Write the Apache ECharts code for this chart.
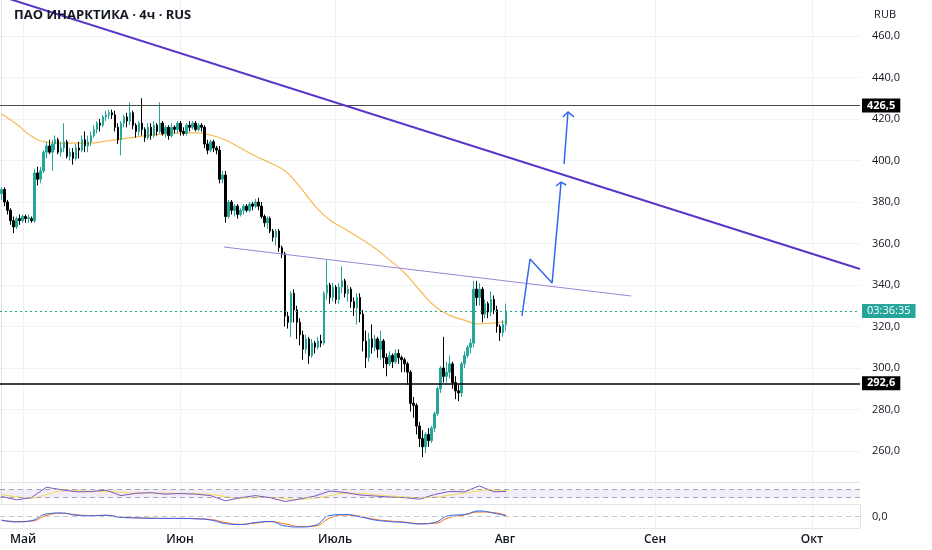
<!DOCTYPE html>
<html><head><meta charset="utf-8">
<script src="https://cdn.jsdelivr.net/npm/echarts@6/dist/echarts.min.js"></script>
<style>html,body{margin:0;padding:0;background:#fff}#c{width:932px;height:550px}</style>
</head><body><div id="c"></div>
<script>
const titleText = 'ПАО ИНАРКТИКА · 4ч · RUS';
const currency = 'RUB';
const monthNames = ['Май', 'Июн', 'Июль', 'Авг', 'Сен', 'Окт'];
const monthPos = [7.2, 59.8, 111.7, 168.6, 218.9, 271.4];
const priceTicks = [260, 280, 300, 320, 340, 360, 380, 400, 420, 440, 460];
const resistance = 426.5;
const support = 292.6;
const lastPrice = 327.5;
const countdown = '03:36:35';

// [open, close, low, high] per 4h bar, bar index = position in array
const candles = [
[384,386,381,387],[386,380,378,387],[380,376,374,381],[376,371,369,377],[371,368,365,373],
[368,372,367,373],[372,371,369,374],[371,373,370,374],[373,372,370,374],[372,372.5,370,374],
[372,371,370,373],[371,394,370,396],[394,391,388,397],[391,395,389,397],[395,404,394,405],
[404,407,401,409],[407,404,403,410],[404,408,395,410],[408,410,405,412],[410,404,403,411],
[404,406,402,409],[406,409,404,418],[409,402,401,410],[402,404,400,406],[404,401,398,406],
[401,406,400,408],[406,405,401,409],[405,410,404,412],[410,407,404,414],[407,409,404,412],
[409,412,407,414],[412,415,411,417],[415,418,413,419],[418,417,414,420],[417,421,416,422],
[421,422,419,424],[422,423,420,424.5],[423,422,420,424.5],[422,416,414,424],[416,410,408,418],
[410,418,402.5,419],[418,421,416,422],[421,419,416,423],[419,423,417,428],[423,417,415,424],
[417,414,411,418],[414,418,412,419],[418,415,412,430],[415,411,409,416],[411,416,410,418],
[416,412,410,418],[412,417,411,419],[417,414,412,418],[414,418,413,428],[418,413,412,419],
[413,416,411,417],[416,412,410,417],[412,416,411,418],[416,415,413,417],[415,418,413,419],
[418,414,412,419],[414,413,412,416],[413,417,412,418],[417,416,414,419],[416,418,415,419],
[418,415,414,419],[415,417,414,418],[417,416,414,418],[416,408,406,417],[408,405,403,410],
[405,409,404,410],[409,406,404,410],[406,405,403,407],[405,391,389,407],[391,393,389,395],
[393,373,370,395],[373,380,372,381],[380,376,374,381],[376,378,373,379],[378,374,372,379],
[374,376,373,377],[376,378,374,379],[378,376,375,379],[376,379,375,380],[379,378,376,380],
[378,380,377,381.5],[380,378,376,382],[378,373,372,380],[373,370,368,374],[370,372,367,373],
[372,366,365,373],[366,363,361,367],[363,366,359,367],[366,358,356,367],[358,355,353,359],
[355,325,320,356],[325,322,319,327],[322,336,315,337],[336,328,322,338],[328,322,314,330],
[322,316,311,324],[316,309,304,318],[309,314,307,316],[314,306,302,315],[306,312,305,314],
[312,310,307,313],[310,313,309,315],[313,312,310,316],[312,336,311,337],[336,340,333,352],
[340,334,331,341],[334,339,332,341],[339,333,331,340],[333,339,331,341],[339,342,336,349],
[342,336,334,343],[336,338,332,340],[338,332,329,339],[332,329,325,334],[329,334,321,336],
[334,326,322,336],[326,313,308,328],[313,305,300,318],[305,314,303,317],[314,310,307,321],
[310,314,308,316],[314,309,305,315],[309,313,304,318],[313,305,300,314],[305,302,296,307],
[302,306,301,308],[306,303,300,307],[303,307,302,309],[307,305,302,309],[305,304,298,306],
[304,302,298,305],[302,298,292,303],[298,283,279,299],[283,282,276,286],[282,272,268,283],
[272,266,262,274],[266,262,257,270],[262,268,259,269],[268,265,262,271],[265,271,264,272],
[271,278,269,279],[278,290,277,291],[290,300,288,301],[300,296,293,315],[296,298,293,303],
[298,302,295,306],[302,293,290,303],[293,289,285,296],[289,288,284,292],[288,302,286,303],
[302,306,300,308],[306,310,305,311],[310,312,307,314],[312,338,310,342],[338,334,330,342],
[334,338,330,341],[338,326,322,339],[326,331,324,333],[331,327,324,332],[327,333,325,337],
[333,328,326,335],[328,320,317,330],[320,317,313,321],[317,321,315,323],[321,327.5,318,331]
];

// indicator samples at these bar indices
const sampleIdx = [0,5,10,15,20,25,30,35,40,45,50,55,60,65,70,75,80,85,90,95,100,105,110,115,120,125,130,135,140,145,150,155,160,165,169];
const ma = [422.4,417.6,411.8,408.9,408.4,408.4,408.4,409.4,410.3,411.3,412.3,412.8,413.3,413.3,412.3,409.9,406.0,402.2,398.8,394.9,387.2,378.1,371.3,367.0,362.6,357.8,352.0,345.8,337.6,329.9,325.5,323.1,321.2,321.7,322.2];
const rsi = [36,20,30,80,68,58,59,66,40,51,54,47,50,47,40,15,30,40,30,12,24,38,62,55,43,38,33,30,23,45,60,58,86,58,60];
const rsiMa = [45,35,28,45,62,65,60,60,56,52,52,52,50,49,46,35,28,30,32,25,22,28,40,50,50,44,38,34,30,32,42,52,62,66,62];
const macd = [-3.8,-5.4,-4.2,2.5,3.5,1.3,0.7,1.3,-0.9,-1.4,-1.8,-1.9,-1.9,-2.3,-3.5,-7.1,-8.1,-6.0,-5.0,-9.5,-10.5,-8.8,1.0,2.0,-0.3,-3.5,-5.0,-6.0,-7.5,-6.0,1.0,2.0,5.5,3.3,0.5];
const signal = [-3.5,-5.0,-4.6,1.0,3.3,1.8,0.9,1.0,-0.6,-1.3,-1.7,-1.9,-1.9,-2.2,-3.0,-6.0,-7.8,-6.6,-5.2,-7.5,-10.0,-9.5,-1.5,1.5,0.3,-2.8,-4.5,-5.6,-7.0,-6.8,-1.0,1.6,4.5,3.8,1.2];

// drawings in [bar index, price]
const trendMain = [[-0.5, 479.3], [287.5, 347.7]];
const trendNeck = [[74.5, 358.3], [210.8, 334.7]];
const arrowPath1 = [[174.3, 325.1], [177.0, 352.5], [184.4, 341.0], [187.4, 389.6]];
const arrowHead1 = [[185.7, 387.7], [187.4, 389.6], [189.1, 388.2]];
const arrowPath2 = [[188.4, 398.3], [189.7, 423.4]];
const arrowHead2 = [[188.0, 421.0], [189.7, 423.4], [191.7, 421.0]];

const FONT = 'Open Sans';
const fmt = v => Number(v).toFixed(1).replace('.', ',');
const XMIN = -0.5, XMAX = 287.5;
const gridColor = '#f1f2f5';
const sepColor = '#e0e3eb';

function xAxisFor(gi, showLabels) {
  return {
    type: 'value', gridIndex: gi, min: XMIN, max: XMAX,
    axisLine: { show: true, onZero: false, lineStyle: { color: sepColor } },
    axisTick: { show: false, customValues: monthPos },
    splitLine: { show: true, lineStyle: { color: gridColor } },
    axisLabel: {
      show: showLabels, customValues: monthPos, margin: 6, alignMinLabel: 'center', alignMaxLabel: 'center',
      color: '#131722', fontSize: 12, fontWeight: 600, fontFamily: FONT,
      formatter: v => monthNames[monthPos.indexOf(v)] || ''
    }
  };
}

const sample = arr => sampleIdx.map((ix, k) => [ix, arr[k]]);
const candleData = candles.map((c, i) => [i, c[0], c[1], c[2], c[3]]);

const chart = echarts.init(document.getElementById('c'), null, { renderer: 'canvas' });
chart.setOption({
  animation: false,
  backgroundColor: '#ffffff',
  textStyle: { fontFamily: FONT },
  title: [
    { text: titleText, left: 9, top: 4, textStyle: { fontSize: 13, fontWeight: 'bold', color: '#131722', fontFamily: FONT } },
    { text: currency, right: 31, top: 4, textStyle: { fontSize: 11, fontWeight: 'normal', color: '#131722', fontFamily: FONT } }
  ],
  grid: [
    { left: 0, right: 72, top: 0, height: 482 },
    { left: 0, right: 72, top: 483, height: 21 },
    { left: 0, right: 72, top: 505, height: 23 }
  ],
  xAxis: [xAxisFor(0, false), xAxisFor(1, false), xAxisFor(2, true)],
  yAxis: [
    {
      type: 'value', gridIndex: 0, position: 'right', min: 245.06, max: 477.35, scale: true,
      axisLine: { show: true, lineStyle: { color: sepColor } },
      axisTick: { show: false, customValues: priceTicks },
      splitLine: { show: true, lineStyle: { color: gridColor } },
      axisLabel: { customValues: priceTicks, margin: 12, color: '#131722', fontSize: 11, fontFamily: FONT, formatter: fmt }
    },
    {
      type: 'value', gridIndex: 1, position: 'right', min: 0, max: 100,
      axisLine: { show: true, lineStyle: { color: sepColor } },
      axisTick: { show: false }, splitLine: { show: false }, axisLabel: { show: false }
    },
    {
      type: 'value', gridIndex: 2, position: 'right', min: -11.5, max: 11.5,
      axisLine: { show: true, onZero: false, lineStyle: { color: sepColor } },
      axisTick: { show: false, customValues: [0] }, splitLine: { show: false },
      axisLabel: { customValues: [0], margin: 12, color: '#131722', fontSize: 11, fontFamily: FONT, formatter: fmt }
    }
  ],
  series: [
    {
      type: 'line', name: 'levels', xAxisIndex: 0, yAxisIndex: 0, data: [], silent: true,
      markLine: {
        symbol: 'none', silent: true, animation: false,
        data: [
          { yAxis: resistance, lineStyle: { color: '#4a4a4a', width: 1, type: 'solid' },
            label: { formatter: fmt(resistance), position: 'end', distance: 2, backgroundColor: '#000', color: '#fff', fontWeight: 'bold', fontSize: 11, padding: [2, 5, 1, 5], fontFamily: FONT } },
          { yAxis: support, lineStyle: { color: '#000', width: 1.6, type: 'solid' },
            label: { formatter: fmt(support), position: 'end', distance: 2, backgroundColor: '#000', color: '#fff', fontWeight: 'bold', fontSize: 11, padding: [2, 5, 1, 5], fontFamily: FONT } },
          { yAxis: lastPrice, lineStyle: { color: '#22a592', width: 1, type: [2, 3] },
            label: { formatter: countdown, position: 'end', distance: 2, backgroundColor: '#26a69a', color: '#fff', fontSize: 11, padding: [2, 5, 1, 5], fontFamily: FONT } }
        ]
      }
    },
    {
      type: 'line', name: 'MA', xAxisIndex: 0, yAxisIndex: 0, data: sample(ma), smooth: true,
      showSymbol: false, lineStyle: { color: '#f7b955', width: 1.2 }, z: 3
    },
    {
      type: 'candlestick', name: 'price', xAxisIndex: 0, yAxisIndex: 0, data: candleData, barWidth: 2,
      itemStyle: { color: '#26a69a', color0: '#000000', borderColor: '#26a69a', borderColor0: '#000000', borderWidth: 1 },
      z: 4
    },
    {
      type: 'line', name: 'trend', xAxisIndex: 0, yAxisIndex: 0, data: trendMain, showSymbol: false,
      lineStyle: { color: '#5a35c8', width: 2 }, z: 5
    },
    {
      type: 'line', name: 'neck', xAxisIndex: 0, yAxisIndex: 0, data: trendNeck, showSymbol: false,
      lineStyle: { color: '#9c85d6', width: 1 }, z: 5
    },
    { type: 'line', xAxisIndex: 0, yAxisIndex: 0, data: arrowPath1, showSymbol: false, lineStyle: { color: '#3468f0', width: 1.5 }, z: 6 },
    { type: 'line', xAxisIndex: 0, yAxisIndex: 0, data: arrowHead1, showSymbol: false, lineStyle: { color: '#3468f0', width: 1.5 }, z: 6 },
    { type: 'line', xAxisIndex: 0, yAxisIndex: 0, data: arrowPath2, showSymbol: false, lineStyle: { color: '#3468f0', width: 1.5 }, z: 6 },
    { type: 'line', xAxisIndex: 0, yAxisIndex: 0, data: arrowHead2, showSymbol: false, lineStyle: { color: '#3468f0', width: 1.5 }, z: 6 },
    {
      type: 'line', name: 'RSI MA', xAxisIndex: 1, yAxisIndex: 1, data: sample(rsiMa), showSymbol: false, smooth: true,
      lineStyle: { color: '#f2dc4e', width: 1 },
      markArea: { silent: true, itemStyle: { color: 'rgba(126,87,194,0.10)' }, data: [[{ yAxis: 30 }, { yAxis: 70 }]] },
      markLine: { symbol: 'none', silent: true, label: { show: false },
        lineStyle: { color: '#a3a6af', type: [5, 4], width: 1 }, data: [{ yAxis: 70 }, { yAxis: 30 }] }
    },
    {
      type: 'line', name: 'RSI', xAxisIndex: 1, yAxisIndex: 1, data: sample(rsi), showSymbol: false,
      lineStyle: { color: '#7e57c2', width: 1 }
    },
    {
      type: 'line', name: 'Signal', xAxisIndex: 2, yAxisIndex: 2, data: sample(signal), showSymbol: false, smooth: true,
      lineStyle: { color: '#ff6d00', width: 1 },
      markLine: { symbol: 'none', silent: true, label: { show: false },
        lineStyle: { color: '#c3c6ce', type: [5, 4], width: 1 }, data: [{ yAxis: 0 }] }
    },
    {
      type: 'line', name: 'MACD', xAxisIndex: 2, yAxisIndex: 2, data: sample(macd), showSymbol: false, smooth: true,
      lineStyle: { color: '#2962ff', width: 1 }
    }
  ]
});
</script>
</body></html>
